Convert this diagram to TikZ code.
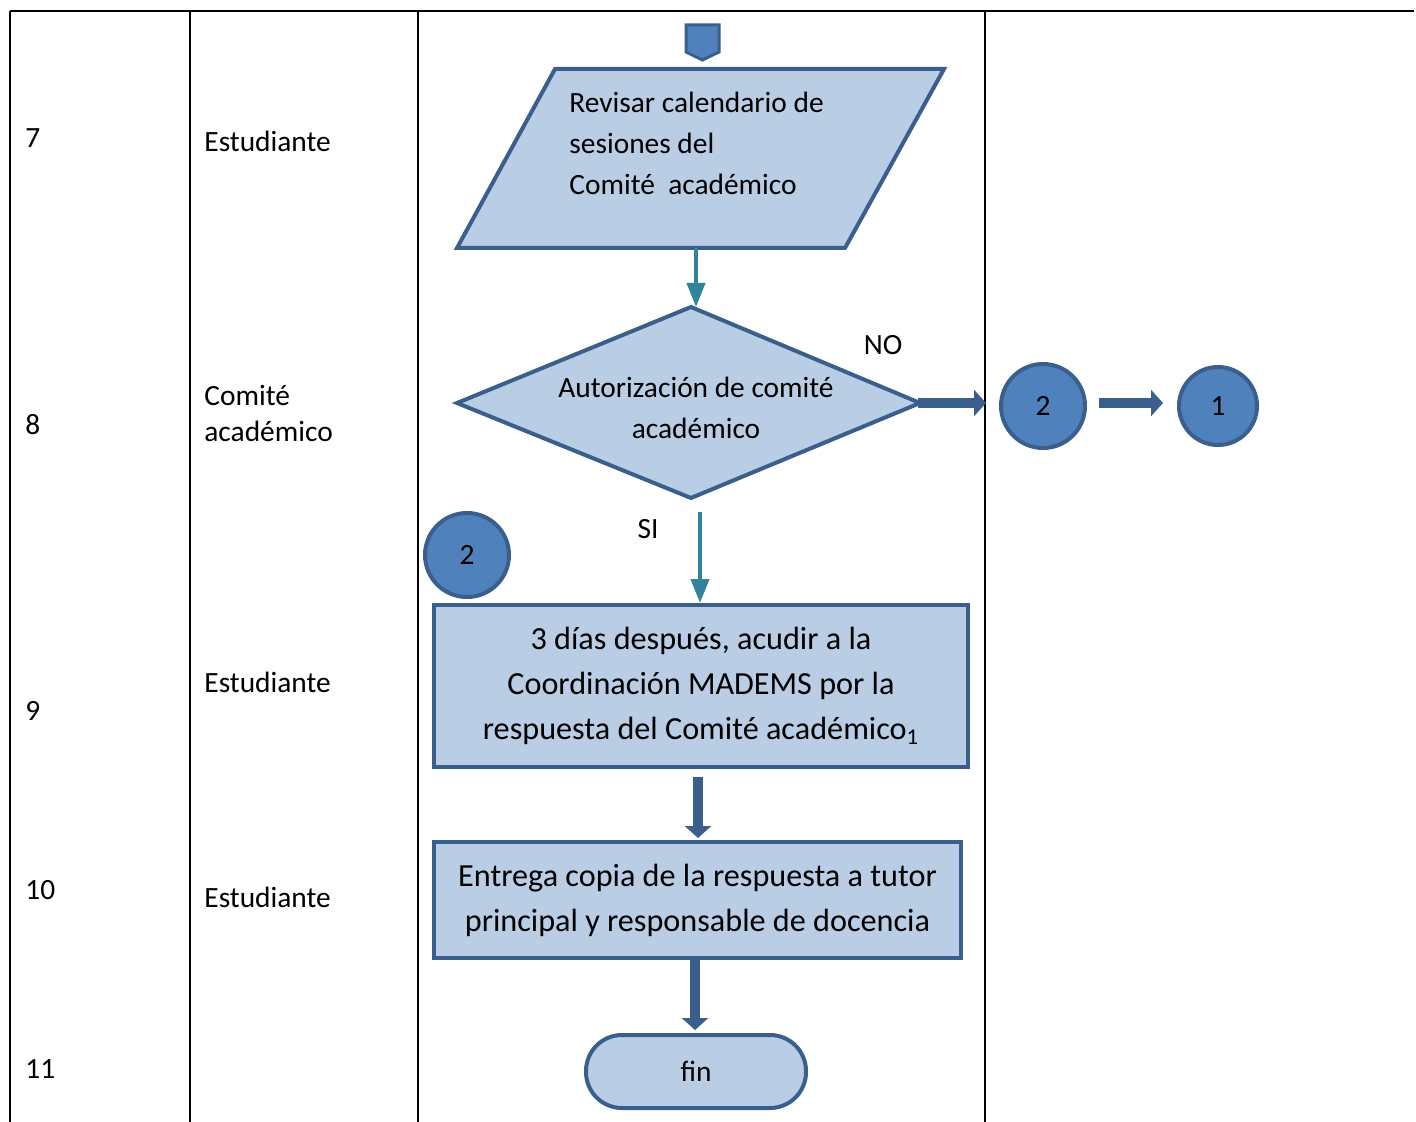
\documentclass[tikz,border=0pt]{standalone}
\usepackage{fontspec}
\setmainfont{Carlito}
\usetikzlibrary{arrows.meta}
\definecolor{lightfill}{HTML}{B9CDE5}
\definecolor{darkb}{HTML}{3A5F8D}
\definecolor{midb}{HTML}{4F81BD}
\definecolor{tealb}{HTML}{31849B}
\tikzset{
  grid/.style={line width=1pt,black},
  rowlbl/.style={anchor=west,inner sep=0pt,font=\fontsize{14.7}{17}\selectfont},
  shapeb/.style={draw=darkb,fill=lightfill,line width=2pt},
  boxb/.style={shapeb,rectangle,inner sep=0pt,align=center,font=\fontsize{16.1}{22.5}\selectfont},
  conn/.style={circle,draw=darkb,fill=midb,line width=2pt,inner sep=0pt,font=\fontsize{14.7}{17}\selectfont},
  darkarrow/.style={draw=darkb,line width=5pt,-{Triangle[width=13pt,length=6pt]}},
  tealarrow/.style={draw=tealb,line width=2pt,-{Triangle[width=9pt,length=12pt]}},
  flowtxt/.style={inner sep=0pt,font=\fontsize{14.7}{20.5}\selectfont},
}
\begin{document}
\begin{tikzpicture}[x=0.5pt,y=-0.5pt]
\useasboundingbox[fill=white] (0,0) rectangle (1416,1122);
% table
\draw[grid] (10,11) -- (1414,11);
\foreach \xx in {10,190,418,985} \draw[grid] (\xx,11) -- (\xx,1122);
% row numbers
\node[rowlbl] (n7) at (25,138) {7};
\node[rowlbl] (n8) at (25,425) {8};
\node[rowlbl] (n9) at (25,711) {9};
\node[rowlbl] (n10) at (25,890) {10};
\node[rowlbl] (n11) at (25,1069) {11};
% actors
\node[rowlbl] (a7) at (204,141) {Estudiante};
\node[rowlbl,align=left,font=\fontsize{14.7}{18}\selectfont] (a8) at (204,413) {Comité\\académico};
\node[rowlbl] (a9) at (204,682) {Estudiante};
\node[rowlbl] (a10) at (204,897) {Estudiante};
% off-page connector
\draw[draw=darkb,fill=midb,line width=1.5pt] (686,25) -- (719,25) -- (719,52) -- (702.5,60) -- (686,52) -- cycle;
% parallelogram
\draw[shapeb] (457,248) -- (555,69) -- (944,69) -- (845,248) -- cycle;
\coordinate (parb) at (696,248);
\node[flowtxt,anchor=west,align=left] (ptxt) at (569,143) {Revisar calendario de\\sesiones del\\Comité~ académico};
% diamond
\draw[shapeb] (457,403) -- (691,307) -- (920,403) -- (691,498) -- cycle;
\coordinate (dtop) at (696,307);
\coordinate (dright) at (918,403);
\coordinate (dbot) at (700,512);
\node[flowtxt,align=center] (dtxt) at (696,407.5) {Autorización de comité\\académico};
\node[flowtxt] (no) at (883,345) {NO};
\node[flowtxt] (si) at (648,529) {SI};
% connectors
\node[conn,minimum size=42pt] (c2a) at (1043,406) {2};
\node[conn,minimum size=39pt] (c1) at (1218,406) {1};
\node[conn,minimum size=42pt] (c2b) at (467,555) {2};
% boxes
\node[boxb,minimum width=267pt,minimum height=81pt] (b1) at (701,686) {3 días después, acudir a la\\Coordinación MADEMS por la\\respuesta del Comité académico\textsubscript{1}};
\node[boxb,minimum width=263.5pt,minimum height=58pt] (b2) at (697.5,900) {Entrega copia de la respuesta a tutor\\principal y responsable de docencia};
\node[shapeb,rectangle,rounded corners=18pt,minimum width=110pt,minimum height=36.5pt,inner sep=0pt,font=\fontsize{14.7}{17}\selectfont] (fin) at (696,1071.5) {fin};
% arrow guide coordinates
\coordinate (xa) at (698,0);
\coordinate (xb) at (695,0);
% arrows
\draw[tealarrow] (parb) -- (dtop);
\draw[darkarrow,shorten >=6.5pt] (dright) -- (dright -| c2a.west);
\draw[darkarrow,shorten <=6pt,shorten >=7pt] (c2a.east |- dright) -- (c1.west |- dright);
\draw[tealarrow] (dbot) -- (b1.north -| dbot);
\draw[darkarrow,shorten <=4pt,shorten >=1pt] (b1.south -| xa) -- (b2.north -| xa);
\draw[darkarrow,shorten >=1.5pt] (b2.south -| xb) -- (fin.north -| xb);
\end{tikzpicture}
\end{document}
